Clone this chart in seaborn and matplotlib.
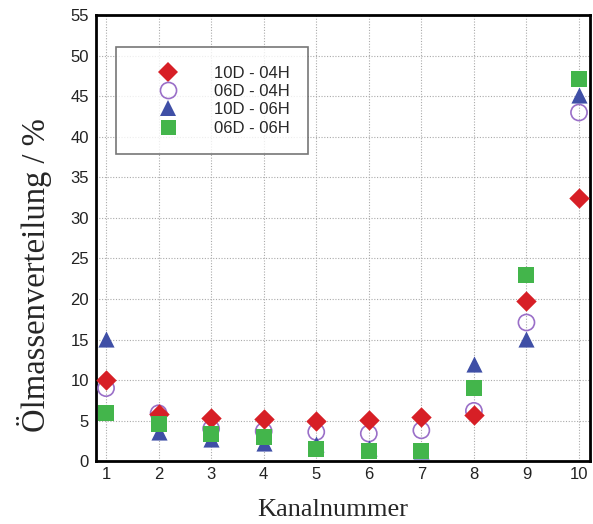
import numpy as np
import pandas as pd
import matplotlib
matplotlib.use("Agg")
import matplotlib.pyplot as plt
import seaborn as sns
from matplotlib.lines import Line2D

kanal = [1, 2, 3, 4, 5, 6, 7, 8, 9, 10]
s_10d_04h = [10.0, 5.8, 5.3, 5.2, 4.9, 5.1, 5.4, 5.7, 19.7, 32.5]
s_06d_04h = [9.0, 5.9, 4.0, 3.7, 3.6, 3.4, 3.8, 6.2, 17.1, 43.0]
s_10d_06h = [15.1, 3.6, 2.7, 2.2, 2.1, 1.6, 1.3, 12.0, 15.1, 45.2]
s_06d_06h = [5.9, 4.6, 3.3, 3.0, 1.5, 1.2, 1.3, 9.0, 22.9, 47.1]

labels = ["10D - 04H", "06D - 04H", "10D - 06H", "06D - 06H"]

sns.set_style("white")
plt.rcParams['font.family'] = ['Liberation Sans', 'DejaVu Sans']

fig = plt.figure(figsize=(5.93, 5.24), dpi=100)
ax = fig.add_axes([0.162, 0.12, 0.833, 0.851])

df = pd.DataFrame({"Kanal": kanal * 4,
                   "Wert": s_10d_04h + s_06d_04h + s_10d_06h + s_06d_06h,
                   "Serie": [l for l in labels for _ in kanal]})

red = "#d71f26"
purple = "#9a6fc8"
blue = "#3f4fa6"
green = "#43b54b"

# draw order: circle, triangle, diamond, square
sns.scatterplot(data=df[df.Serie == labels[1]], x="Kanal", y="Wert", ax=ax,
                marker="o", s=135, facecolor="none", edgecolor=purple, linewidth=1.2, zorder=3)
sns.scatterplot(data=df[df.Serie == labels[2]], x="Kanal", y="Wert", ax=ax,
                marker="^", s=135, color=blue, edgecolor=blue, linewidth=0, zorder=4)
sns.scatterplot(data=df[df.Serie == labels[0]], x="Kanal", y="Wert", ax=ax,
                marker="D", s=108, color=red, edgecolor=red, linewidth=0, zorder=5)
sns.scatterplot(data=df[df.Serie == labels[3]], x="Kanal", y="Wert", ax=ax,
                marker="s", s=117, color=green, edgecolor=green, linewidth=0, zorder=6)

ax.set_xlim(0.81, 10.21)
ax.set_ylim(0, 55)
ax.set_xticks(kanal)
ax.set_yticks(np.arange(0, 56, 5))
ax.grid(True, linestyle=(0, (1, 1.5)), color="#aaaaaa", linewidth=0.8)
ax.set_axisbelow(True)
ax.tick_params(axis="both", length=0, labelsize=12, labelcolor="#222222")
ax.tick_params(axis="y", pad=5)
ax.tick_params(axis="x", pad=4.5)
for sp in ax.spines.values():
    sp.set_linewidth(2)
    sp.set_color("black")

ax.set_xlabel("Kanalnummer", family="Liberation Serif", fontsize=19, labelpad=12)
ax.set_ylabel("Ölmassenverteilung / %", family="Liberation Serif", fontsize=23.5, labelpad=13)
ax.xaxis.label.set_x(0.48)
ax.yaxis.label.set_y(0.417)

handles = [
    Line2D([], [], linestyle="none", marker="D", markersize=10.4, color=red, markeredgewidth=0),
    Line2D([], [], linestyle="none", marker="o", markersize=11.6, markerfacecolor="none",
           markeredgecolor=purple, markeredgewidth=1.2),
    Line2D([], [], linestyle="none", marker="^", markersize=11.6, color=blue, markeredgewidth=0),
    Line2D([], [], linestyle="none", marker="s", markersize=10.8, color=green, markeredgewidth=0),
]
leg = ax.legend(handles, labels, loc="upper left", bbox_to_anchor=(0.04, 0.928),
                fontsize=12, frameon=True, fancybox=False, handletextpad=0.7,
                borderpad=1.1, labelspacing=0.2, borderaxespad=0, handlelength=4.1)
leg.get_frame().set_edgecolor("#555555")
leg.get_frame().set_linewidth(1.2)

fig.savefig("out.png", dpi=100)
